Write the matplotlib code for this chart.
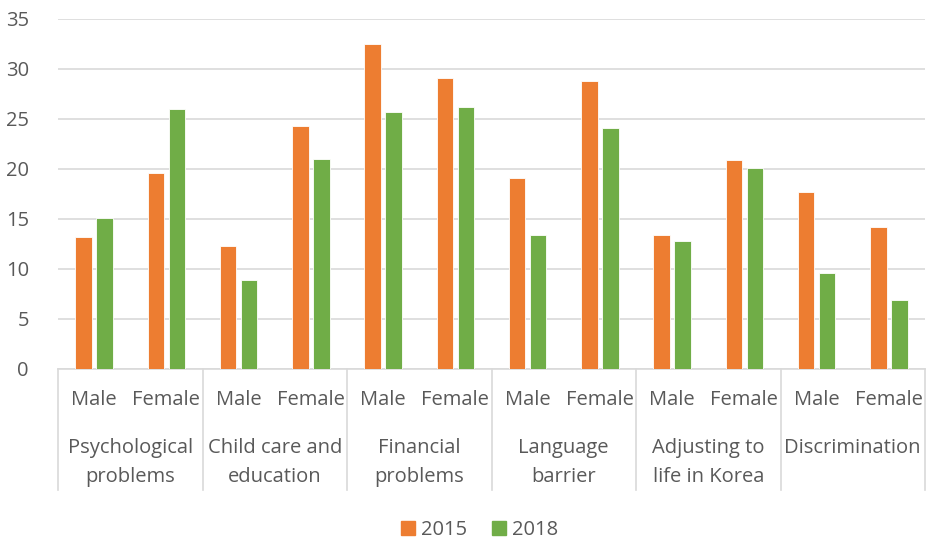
import matplotlib.pyplot as plt
from matplotlib.patches import Patch
import numpy as np

# datos
grupos = ['Psychological\nproblems', 'Child care and\neducation', 'Financial\nproblems',
          'Language\nbarrier', 'Adjusting to\nlife in Korea', 'Discrimination']
sexos = ['Male', 'Female']
v2015 = [13.2, 19.6, 12.3, 24.3, 32.5, 29.1, 19.1, 28.8, 13.4, 20.9, 17.7, 14.2]
v2018 = [15.1, 26.0, 8.9, 21.0, 25.7, 26.2, 13.4, 24.1, 12.8, 20.1, 9.6, 6.9]

naranja = '#ED7D31'
verde = '#70AD47'
gris_txt = '#595959'
gris_lin = '#d9d9d9'
tam = 14.5

plt.rcParams['font.family'] = ['Open Sans', 'DejaVu Sans']

fig = plt.figure(figsize=(9.26, 5.39), dpi=100)
ax = fig.add_axes([58/926, 1-369/539, 1-58/926-1/926, 350/539])

x = np.arange(len(v2015))
ancho = 0.23
ax.bar(x - 0.145, v2015, ancho, color=naranja, edgecolor='white', linewidth=0.6, zorder=3)
ax.bar(x + 0.145, v2018, ancho, color=verde, edgecolor='white', linewidth=0.6, zorder=3)

ax.set_xlim(-0.5, len(x) - 0.5)
ax.set_ylim(0, 35)
ax.set_yticks(range(0, 36, 5))
ax.yaxis.grid(True, color=gris_lin, linewidth=1.2)
ax.set_axisbelow(True)
ax.tick_params(axis='y', length=0, labelsize=tam, labelcolor=gris_txt, pad=21)
ax.set_xticks([])
for lado in ['top', 'right', 'left']:
    ax.spines[lado].set_visible(False)
ax.spines['bottom'].set_color(gris_lin)
ax.spines['bottom'].set_linewidth(1.2)

trans = ax.get_xaxis_transform()
# etiquetas Male / Female
for i in x:
    ax.text(i, -0.088, sexos[i % 2], transform=trans, ha='center', va='center',
            fontsize=tam, color=gris_txt)
# etiquetas de grupo
for g, nombre in enumerate(grupos):
    for k, linea in enumerate(nombre.split('\n')):
        ax.text(2*g + 0.5, -0.225 - 0.083*k, linea, transform=trans, ha='center',
                va='center', fontsize=tam, color=gris_txt)
# lineas separadoras
for b in np.arange(-0.5, len(x), 2):
    ax.plot([b, b], [0, -0.346], transform=trans, color=gris_lin, linewidth=1.2,
            clip_on=False)

handles = [Patch(color=naranja, label='2015'), Patch(color=verde, label='2018')]
fig.legend(handles=handles, loc='lower center', bbox_to_anchor=(0.518, -0.036), ncol=2,
           frameon=False, fontsize=tam, handlelength=0.7, handleheight=0.7,
           handletextpad=0.3, columnspacing=1.2, labelcolor=gris_txt)

fig.savefig('out.png', dpi=100)
